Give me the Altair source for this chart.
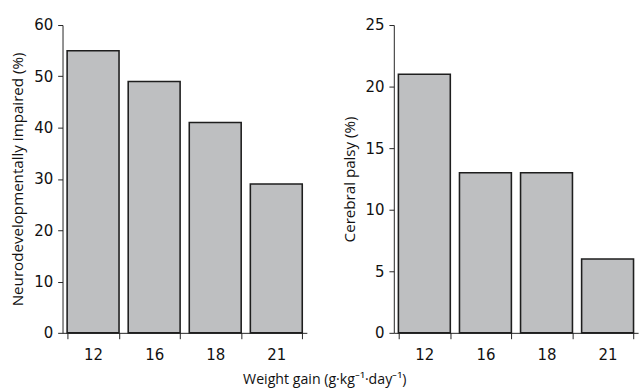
import altair as alt
import pandas as pd

# Weight gain groups (g/kg/day) and outcome rates (%)
weight_gain = ["12", "16", "18", "21"]
neuro_impaired = [55, 49, 41, 29]
cerebral_palsy = [21, 13, 13, 6]

df = pd.DataFrame({
    "gain": weight_gain,
    "neuro": neuro_impaired,
    "cp": cerebral_palsy,
})

TICK_FONT = "DejaVu Sans Condensed, Roboto, sans-serif"
TITLE_FONT = "Open Sans"
BAR_FILL = "#bebfc1"
BAR_STROKE = "#1e1e1e"

x_enc = alt.X(
    "gain:N",
    sort=weight_gain,
    title=None,
    scale=alt.Scale(paddingInner=0.15, paddingOuter=0.075),
    axis=alt.Axis(
        labelAngle=0,
        tickBand="extent",
        tickSize=6,
        labelPadding=8,
        labelFont=TICK_FONT,
        labelFontSize=17,
        labelColor="#111",
        domainColor="#222",
        tickColor="#222",
    ),
)


def panel(field, title, dmax, step):
    return (
        alt.Chart(df)
        .mark_bar(fill=BAR_FILL, stroke=BAR_STROKE, strokeWidth=1.6)
        .encode(
            x=x_enc,
            y=alt.Y(
                f"{field}:Q",
                title=title,
                scale=alt.Scale(domain=[0, dmax], nice=False),
                axis=alt.Axis(
                    values=list(range(0, dmax + 1, step)),
                    grid=False,
                    tickSize=5,
                    labelPadding=5,
                    labelFont=TICK_FONT,
                    labelFontSize=17,
                    labelColor="#111",
                    domainColor="#222",
                    tickColor="#222",
                    titleFont=TITLE_FONT,
                    titleFontSize=15.5,
                    titleFontWeight="normal",
                    titleColor="#111",
                    titlePadding=8,
                ),
            ),
        )
        .properties(width=250, height=315)
    )


left = panel("neuro", "Neurodevelopmentally impaired (%)", 60, 10)
right = panel("cp", "Cerebral palsy (%)", 25, 5)

chart = (
    alt.hconcat(left, right, spacing=36)
    .properties(
        title=alt.TitleParams(
            "Weight gain (g·kg⁻¹·day⁻¹)",
            orient="bottom",
            anchor="middle",
            font=TITLE_FONT,
            fontSize=14.5,
            fontWeight="normal",
            color="#111",
            offset=11,
        ),
        padding={"left": 11, "top": 12, "right": 5, "bottom": 5},
    )
    .configure_view(stroke=None)
)

chart.save("out.html", embed_options={"renderer": "svg", "actions": False})
